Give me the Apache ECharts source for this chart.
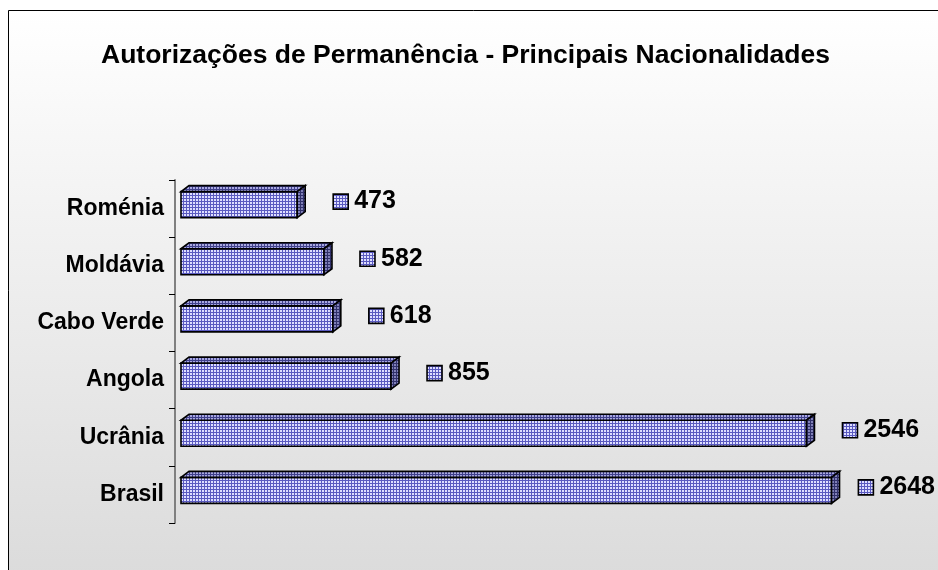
<!DOCTYPE html>
<html>
<head>
<meta charset="utf-8">
<script src="https://cdn.jsdelivr.net/npm/echarts@6/dist/echarts.min.js"></script>
<style>
  html, body { margin: 0; padding: 0; background: #fff; }
  #chart { width: 938px; height: 570px; }
</style>
</head>
<body>
<div id="chart"></div>
<script>
// data, bottom to top as the category axis draws it
const categories = ['Brasil', 'Ucrânia', 'Angola', 'Cabo Verde', 'Moldávia', 'Roménia']
const values = [2648, 2546, 855, 618, 582, 473]
const titleText = 'Autorizações de Permanência - Principais Nacionalidades'

const FONT = '"Liberation Sans", Arial, sans-serif'
const LABEL_FONT = 'bold 25px ' + FONT

// small dotted fill like the old excel pattern
const makePattern = (base, dot) => {
  const c = document.createElement('canvas')
  c.width = 3
  c.height = 3
  const ctx = c.getContext('2d')
  ctx.fillStyle = base
  ctx.fillRect(0, 0, 3, 3)
  ctx.fillStyle = dot
  ctx.fillRect(1, 1, 2, 2)
  return { image: c, repeat: 'repeat' }
}
const frontFill = makePattern('#5a5ac0', '#dedeff')
const topFill = makePattern('#40408c', '#a8a8e0')
const sideFill = makePattern('#30306a', '#8080b8')

const measure = document.createElement('canvas').getContext('2d')
measure.font = LABEL_FONT

const chart = echarts.init(document.getElementById('chart'))

const renderBar = (params, api) => {
  const idx = api.value(1)
  const val = api.value(0)
  const bandH = api.size([0, 1])[1]
  const start = api.coord([0, idx])
  const end = api.coord([val, idx])
  const x0 = start[0]
  const x1 = end[0]
  const h = bandH * 0.455
  const dx = 8
  const dy = 6
  const yTop = start[1] - 4 - h / 2
  const midY = (yTop - dy + yTop + h) / 2

  // value label: key square + number, kept inside the canvas
  const text = String(val)
  const tw = measure.measureText(text).width
  let keyX = x1 + 36
  const maxRight = api.getWidth() - 3
  if (keyX + 21 + tw > maxRight) keyX = maxRight - tw - 21

  const stroke = { stroke: '#000', lineWidth: 1.6 }
  return {
    type: 'group',
    children: [
      {
        type: 'rect',
        shape: { x: x0, y: yTop, width: x1 - x0, height: h },
        style: Object.assign({ fill: frontFill }, stroke)
      },
      {
        type: 'polygon',
        shape: { points: [[x0, yTop], [x0 + dx, yTop - dy], [x1 + dx, yTop - dy], [x1, yTop]] },
        style: Object.assign({ fill: topFill }, stroke)
      },
      {
        type: 'polygon',
        shape: { points: [[x1, yTop], [x1 + dx, yTop - dy], [x1 + dx, yTop - dy + h], [x1, yTop + h]] },
        style: Object.assign({ fill: sideFill }, stroke)
      },
      {
        type: 'rect',
        shape: { x: keyX, y: midY - 7.5, width: 15, height: 15 },
        style: Object.assign({ fill: frontFill }, stroke)
      },
      {
        type: 'text',
        style: {
          x: keyX + 21,
          y: midY,
          text: text,
          fill: '#000',
          font: LABEL_FONT,
          verticalAlign: 'middle',
          align: 'left'
        }
      }
    ]
  }
}

const option = {
  animation: false,
  graphic: [
    {
      type: 'rect',
      z: -10,
      shape: { x: 8.5, y: 10.5, width: 960, height: 600 },
      style: {
        fill: new echarts.graphic.LinearGradient(0, 0, 0, 1, [
          { offset: 0, color: '#ffffff' },
          { offset: 1, color: '#d9d9d9' }
        ]),
        stroke: '#000',
        lineWidth: 1
      }
    }
  ],
  title: {
    text: titleText,
    left: 96,
    top: 37,
    textStyle: { fontFamily: FONT, fontSize: 26.5, fontWeight: 'bold', color: '#000' }
  },
  grid: { left: 181, right: 20, top: 180, bottom: 47 },
  xAxis: {
    type: 'value',
    min: 0,
    max: 3000,
    show: false
  },
  yAxis: {
    type: 'category',
    data: categories,
    offset: 6,
    axisLine: { show: true, onZero: false, lineStyle: { color: '#808080', width: 2 } },
    axisTick: { show: true, length: 6, lineStyle: { color: '#000', width: 1 } },
    axisLabel: { fontFamily: FONT, fontSize: 23, fontWeight: 'bold', color: '#000', margin: 11 },
    splitLine: { show: false }
  },
  series: [{
    type: 'custom',
    renderItem: renderBar,
    encode: { x: 0, y: 1 },
    clip: false,
    data: values.map((v, i) => [v, i])
  }]
}
chart.setOption(option)
</script>
</body>
</html>
